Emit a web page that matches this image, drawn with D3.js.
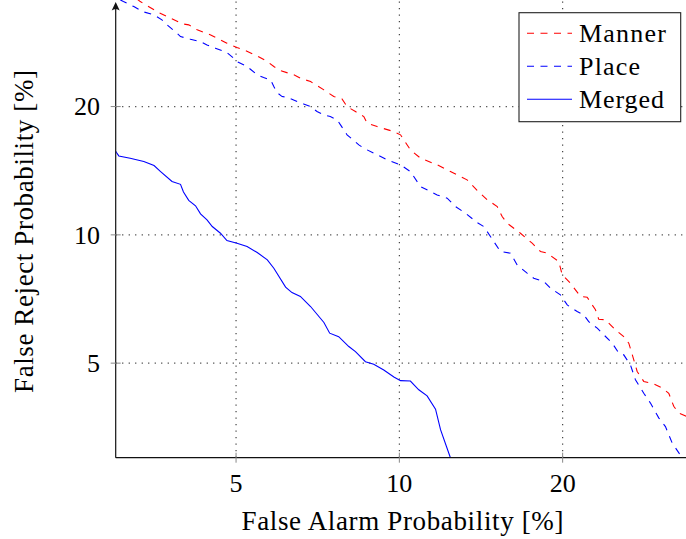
<!DOCTYPE html>
<html>

<head>
  <title>DET curves</title>
  <script src="https://d3js.org/d3.v7.min.js"></script>
  <style>
    body {
      margin: 0;
      background: #ffffff;
    }

    svg text {
      font-family: "Times New Roman", Times, "Liberation Serif", "DejaVu Serif", "Noto Serif", serif;
      font-size: 26px;
      fill: #000000;
    }
  </style>
</head>

<body>
  <svg id="det-plot"></svg>
  <script>
    // false alarm / false reject probabilities in %
    let mannerFA = [3.28, 3.33, 3.60, 3.73, 3.98, 4.09, 4.24, 4.49, 4.81, 5.02, 5.17, 5.47, 5.71, 5.87, 6.04, 6.39, 6.57, 6.86, 7.26, 7.57, 7.84, 8.01, 8.30, 8.60, 8.72, 9.10, 9.77, 10.05, 10.48, 10.94, 11.74, 12.42, 13.33, 13.91, 14.52, 14.83, 15.15, 15.47, 15.80, 16.72, 17.57, 18.20, 18.73, 19.67, 19.96, 20.67, 21.57, 22.19, 22.99, 23.31, 23.98, 25.02, 25.92, 26.48, 27.05, 27.44, 28.22, 29.44, 30.51, 31.38, 32.05, 32.74, 33.83, 34.6]
    let mannerFR = [35.8, 35.27, 33.24, 32.53, 31.27, 31.10, 30.27, 29.46, 28.17, 27.51, 27.17, 26.30, 25.51, 24.83, 24.29, 23.74, 23.32, 22.89, 21.89, 21.11, 20.85, 20.00, 19.47, 18.95, 18.29, 17.95, 17.47, 17.17, 15.83, 15.13, 14.60, 14.08, 13.46, 12.72, 12.08, 11.87, 11.65, 11.04, 10.65, 10.09, 9.56, 9.14, 9.06, 8.66, 8.06, 7.70, 7.17, 7.14, 6.67, 6.34, 6.32, 5.99, 5.77, 5.57, 5.09, 4.78, 4.53, 4.47, 4.37, 4.25, 3.96, 3.82, 3.75, 3.70]

    let placeFA = [3.06, 3.10, 3.24, 3.36, 3.53, 3.65, 3.73, 3.89, 3.95, 4.12, 4.30, 4.42, 4.58, 4.81, 4.95, 5.02, 5.24, 5.47, 5.62, 5.79, 5.87, 5.95, 6.08, 6.21, 6.48, 6.66, 6.86, 7.05, 7.26, 7.46, 7.68, 7.79, 8.01, 8.42, 8.60, 8.97, 9.50, 10.05, 10.48, 10.94, 11.74, 12.25, 12.69, 13.24, 13.91, 14.31, 14.72, 15.36, 16.02, 16.49, 17.20, 17.69, 18.46, 18.99, 19.81, 20.39, 21.27, 21.88, 22.34, 23.16, 23.81, 24.68, 25.38, 25.92, 26.67, 27.24, 28.22, 29.03, 30.07, 30.94, 31.83, 33.21]
    let placeFR = [35.59, 35.27, 34.33, 33.42, 32.82, 31.95, 31.10, 29.73, 29.19, 28.78, 28.41, 27.91, 27.42, 26.78, 25.98, 25.51, 24.83, 23.74, 23.39, 23.11, 22.28, 21.57, 21.11, 21.04, 20.55, 20.29, 20.00, 19.47, 19.12, 18.95, 18.61, 18.12, 17.17, 16.26, 15.97, 15.55, 15.00, 14.60, 14.08, 12.98, 12.41, 12.19, 11.65, 11.24, 10.69, 10.46, 9.91, 9.14, 9.06, 8.50, 8.13, 7.91, 7.77, 7.50, 7.23, 6.85, 6.61, 6.49, 6.26, 6.04, 5.83, 5.57, 5.28, 5.23, 4.95, 4.57, 4.25, 4.03, 3.72, 3.55, 3.25, 3.00]

    let mergedFA = [3.00, 3.01, 3.04, 3.19, 3.38, 3.53, 3.63, 3.81, 3.95, 4.00, 4.09, 4.21, 4.30, 4.42, 4.52, 4.68, 4.81, 5.02, 5.24, 5.47, 5.71, 5.87, 6.17, 6.34, 6.57, 6.86, 7.26, 7.44, 7.73, 8.07, 8.30, 8.66, 8.97, 9.36, 9.77, 10.05, 10.48, 10.86, 11.25, 11.66, 11.91, 12.42]
    let mergedFR = [15.70, 15.60, 15.32, 15.13, 14.86, 14.54, 14.08, 13.34, 13.14, 12.61, 12.05, 11.70, 11.20, 10.84, 10.46, 10.09, 9.70, 9.56, 9.39, 9.09, 8.74, 8.35, 7.54, 7.32, 7.17, 6.79, 6.23, 5.88, 5.77, 5.47, 5.32, 5.04, 4.97, 4.82, 4.64, 4.55, 4.54, 4.33, 4.19, 3.90, 3.49, 3.00]

    let seriesNames = ["Manner", "Place", "Merged"]
    let seriesColors = ["#ff0000", "#0000ff", "#0000ff"]
    let seriesDashed = [true, true, false]
    let tickValues = [5, 10, 20]

    let svgwidth = 686
    let svgheight = 539
    let svg = d3.select("#det-plot")
      .attr("width", svgwidth)
      .attr("height", svgheight)

    let plotLeft = 115.7, plotRight = 694.5, plotTop = 3, plotBottom = 457.7

    let x = d3.scaleLog().domain([3, 35]).range([plotLeft, plotRight])
    let y = d3.scaleLog().domain([3, 35]).range([plotBottom, plotTop])

    svg.append("clipPath")
      .attr("id", "plot-clip")
      .append("rect")
      .attr("x", plotLeft)
      .attr("y", -20)
      .attr("width", plotRight - plotLeft + 20)
      .attr("height", plotBottom + 20)

    // dotted grid
    let grid = svg.append("g")
    grid.selectAll(".vgrid")
      .data(tickValues)
      .enter()
      .append("line")
      .attr("x1", d => x(d)).attr("x2", d => x(d))
      .attr("y1", plotBottom).attr("y2", 0)
      .attr("stroke", "#333")
      .attr("stroke-width", 1.1)
      .attr("stroke-dasharray", "1.1,5.4")
    grid.selectAll(".hgrid")
      .data(tickValues)
      .enter()
      .append("line")
      .attr("x1", plotLeft).attr("x2", svgwidth)
      .attr("y1", d => y(d)).attr("y2", d => y(d))
      .attr("stroke", "#333")
      .attr("stroke-width", 1.1)
      .attr("stroke-dasharray", "1.1,5.4")

    // curves
    let allFA = [mannerFA, placeFA, mergedFA]
    let allFR = [mannerFR, placeFR, mergedFR]
    let line = d3.line().x(d => x(d[0])).y(d => y(d[1]))
    let curves = svg.append("g").attr("clip-path", "url(#plot-clip)")
    for (let i = 0; i < seriesNames.length; i++) {
      let pts = allFA[i].map((fa, j) => [fa, allFR[i][j]])
      curves.append("path")
        .datum(pts)
        .attr("d", line)
        .attr("fill", "none")
        .attr("stroke", seriesColors[i])
        .attr("stroke-width", 1.1)
        .attr("stroke-dasharray", seriesDashed[i] ? "7,6.5" : null)
    }

    // axes
    svg.append("line")
      .attr("x1", plotLeft).attr("x2", svgwidth)
      .attr("y1", plotBottom).attr("y2", plotBottom)
      .attr("stroke", "#111").attr("stroke-width", 1.2)
    svg.append("line")
      .attr("x1", plotLeft).attr("x2", plotLeft)
      .attr("y1", plotBottom).attr("y2", 6)
      .attr("stroke", "#111").attr("stroke-width", 1.2)
    svg.append("path")
      .attr("d", `M${plotLeft},2 L${plotLeft - 4},10.5 Q${plotLeft},7.5 ${plotLeft + 4},10.5 Z`)
      .attr("fill", "#111")

    svg.selectAll(".xtick")
      .data(tickValues)
      .enter()
      .append("line")
      .attr("x1", d => x(d)).attr("x2", d => x(d))
      .attr("y1", plotBottom - 5).attr("y2", plotBottom + 5)
      .attr("stroke", "#888").attr("stroke-width", 1)
    svg.selectAll(".ytick")
      .data(tickValues)
      .enter()
      .append("line")
      .attr("x1", plotLeft - 5).attr("x2", plotLeft + 5)
      .attr("y1", d => y(d)).attr("y2", d => y(d))
      .attr("stroke", "#888").attr("stroke-width", 1)

    svg.selectAll(".xlabel")
      .data(tickValues)
      .enter()
      .append("text")
      .attr("x", d => x(d))
      .attr("y", 491.5)
      .attr("text-anchor", "middle")
      .text(d => d)
    svg.selectAll(".ylabel")
      .data(tickValues)
      .enter()
      .append("text")
      .attr("x", 100)
      .attr("y", d => y(d) + 8.7)
      .attr("text-anchor", "end")
      .text(d => d)

    // axis titles, stretched to the width of the original Computer Modern text
    svg.append("text")
      .attr("x", 402.5)
      .attr("y", 529.5)
      .attr("text-anchor", "middle")
      .attr("textLength", 322)
      .attr("lengthAdjust", "spacing")
      .style("font-size", "27px")
      .text("False Alarm Probability [%]")
    svg.append("text")
      .attr("transform", "translate(33,231.5) rotate(-90)")
      .attr("text-anchor", "middle")
      .attr("textLength", 323)
      .attr("lengthAdjust", "spacing")
      .style("font-size", "27px")
      .text("False Reject Probability [%]")

    // legend
    let legendWidths = [87, 61, 85]
    let legend = svg.append("g")
    legend.append("rect")
      .attr("x", 519).attr("y", 12.7)
      .attr("width", 161.7).attr("height", 109)
      .attr("fill", "#ffffff")
      .attr("stroke", "#222").attr("stroke-width", 1.1)
    seriesNames.forEach((name, i) => {
      let ly = 33.3 + i * 33
      legend.append("line")
        .attr("x1", 527).attr("x2", 572)
        .attr("y1", ly).attr("y2", ly)
        .attr("stroke", seriesColors[i])
        .attr("stroke-width", 1.1)
        .attr("stroke-dasharray", seriesDashed[i] ? "7,6.5" : null)
      legend.append("text")
        .attr("x", 579)
        .attr("y", ly + 8.6)
        .attr("textLength", legendWidths[i])
        .attr("lengthAdjust", "spacing")
        .text(name)
    })
  </script>
</body>

</html>
